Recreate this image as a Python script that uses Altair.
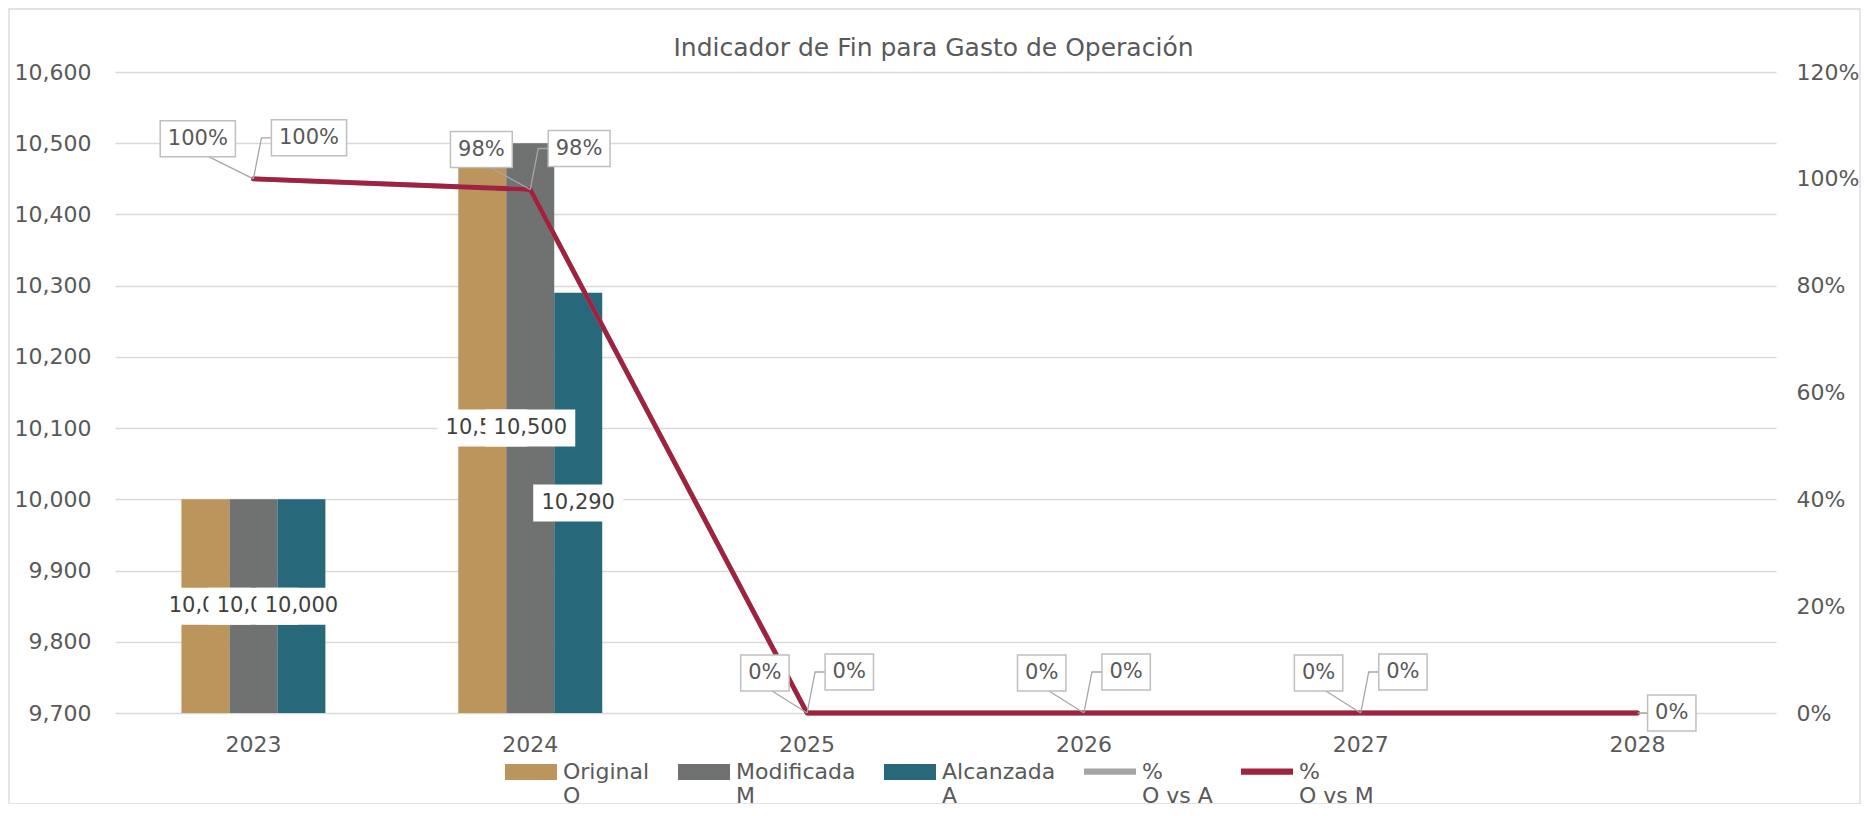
import altair as alt
import pandas as pd

FONT = "DejaVu Sans"
TXT = "#595959"

# ---------------- data ----------------
anios = ["2023", "2024", "2025", "2026", "2027", "2028"]
anios_barras = ["2023", "2024"]
series_barras = ["Original|O", "Modificada|M", "Alcanzada|A"]
original = [10000, 10500]
modificada = [10000, 10500]
alcanzada = [10000, 10290]

series_pct = ["%|O vs A", "%|O vs M"]
pct_o_vs_a = [1.00, 0.98, 0.0, 0.0, 0.0, 0.0]
pct_o_vs_m = [1.00, 0.98, 0.0, 0.0, 0.0, 0.0]

ticks_izq = [9700, 9800, 9900, 10000, 10100, 10200, 10300, 10400, 10500, 10600]
ticks_der = [0.0, 0.2, 0.4, 0.6, 0.8, 1.0, 1.2]

series_todas = series_barras + series_pct
colores = ["#BC955C", "#6F7271", "#27697A", "#A5A5A5", "#9F2241"]

titulo = "Indicador de Fin para Gasto de Operación"

# ---------------- tables ----------------
rows = []
for s, vals in zip(series_barras, [original, modificada, alcanzada]):
    for a, v in zip(anios_barras, vals):
        rows.append({"anio": a, "serie": s, "valor": v})
df_bar = pd.DataFrame(rows)

rows = []
for s, vals in zip(series_pct, [pct_o_vs_a, pct_o_vs_m]):
    for a, v in zip(anios, vals):
        rows.append({"anio": a, "serie": s, "pct": v})
df_pct = pd.DataFrame(rows)

df_ley = pd.DataFrame({"serie": series_todas})

base_min = ticks_izq[0]

# ---------------- shared encodings ----------------
x_enc = alt.X(
    "anio:N",
    scale=alt.Scale(domain=anios, paddingInner=0.48, paddingOuter=0.24),
    axis=alt.Axis(title=None, labelAngle=0, ticks=False, domain=False,
                  labelFontSize=22, labelPadding=21, labelColor=TXT, labelFont=FONT),
)
xoff_enc = alt.XOffset("serie:N", scale=alt.Scale(domain=series_barras, paddingInner=0, paddingOuter=0))
y_scale_izq = alt.Scale(domain=[ticks_izq[0], ticks_izq[-1]], zero=False, nice=False)
y_axis_izq = alt.Axis(title=None, values=ticks_izq, labelExpr="format(datum.value, ',')",
                      ticks=False, domain=False,
                      grid=True, gridColor="#D9D9D9", gridWidth=1.3,
                      labelFontSize=22, labelPadding=24, labelColor=TXT, labelFont=FONT)
y_scale_der = alt.Scale(domain=[ticks_der[0], ticks_der[-1]], nice=False)
y_axis_der = alt.Axis(title=None, orient="right", values=ticks_der,
                      labelExpr="format(datum.value, '.0%')", ticks=False,
                      domain=False, grid=False, labelFontSize=22, labelPadding=20,
                      labelColor=TXT, labelFont=FONT)

color_scale = alt.Scale(domain=series_todas, range=colores)

# legend symbol shapes (wide swatch for bars, thin stroke for lines), shifted up to sit on the first label line
forma_barra = "M-1,-0.58L1,-0.58L1,0.04L-1,0.04Z"
forma_linea = "M-1,-0.4L1,-0.4L1,-0.16L-1,-0.16Z"
legend_def = alt.Legend(
    title=None, orient="none", legendX=390, legendY=681, direction="horizontal", columns=5,
    symbolSize=2704, symbolStrokeWidth=0, columnPadding=28, padding=0, labelOffset=6,
    labelFontSize=22, labelColor=TXT, labelFont=FONT, labelBaseline="alphabetic",
    labelExpr="split(datum.label, '|')",
)
color_enc = alt.Color("serie:N", scale=color_scale, legend=legend_def)

# legend carrier (draws nothing; provides the combined colour/shape legend)
leyenda = alt.Chart(df_ley).transform_filter("false").mark_point(filled=True, opacity=1).encode(
    color=color_enc,
    shape=alt.Shape("serie:N", scale=alt.Scale(domain=series_todas,
                    range=[forma_barra] * 3 + [forma_linea] * 2), legend=legend_def),
)

# ---------------- left (bars) ----------------
borde = alt.Chart(pd.DataFrame({"k": [0]})).mark_rect(
    filled=False, stroke="#D9D9D9", strokeWidth=1.3
).encode(x=alt.value(-106), x2=alt.value(1745), y=alt.value(-63), y2=alt.value(732))

barras = alt.Chart(df_bar).mark_bar().encode(
    x=x_enc, xOffset=xoff_enc,
    y=alt.Y("valor:Q", scale=y_scale_izq, axis=y_axis_izq),
    y2=alt.Y2(datum=base_min),
    color=color_enc,
)

capas_izq = [leyenda, borde, barras]
for s in series_barras:
    b = alt.Chart(df_bar).transform_filter(alt.datum.serie == s).transform_calculate(
        mid=f"(datum.valor + {base_min}) / 2"
    )
    caja = b.mark_point(shape="M-45,-18.5L45,-18.5L45,18.5L-45,18.5Z", size=4, filled=True,
                        fill="white", opacity=1, strokeWidth=0).encode(
        x=x_enc, xOffset=xoff_enc, y=alt.Y("mid:Q", scale=y_scale_izq, axis=y_axis_izq))
    texto = b.mark_text(font=FONT, fontSize=21, color="#404040", baseline="middle").encode(
        x=x_enc, xOffset=xoff_enc, y=alt.Y("mid:Q", scale=y_scale_izq, axis=y_axis_izq),
        text=alt.Text("valor:Q", format=","))
    capas_izq += [caja, texto]

izq = alt.layer(*capas_izq)

# ---------------- right (percent lines) ----------------
y_pct = alt.Y("pct:Q", scale=y_scale_der, axis=y_axis_der)
capas_der = []
for s in series_pct:
    capas_der.append(
        alt.Chart(df_pct).transform_filter(alt.datum.serie == s)
        .mark_line(strokeWidth=4.8, strokeCap="round", strokeJoin="round")
        .encode(x=x_enc, y=y_pct, color=color_enc)
    )

ancho = "(13.4 * (length(datum.etq) - 1) + 35)"

# left labels: % O vs A (not shown for the last year)
izq_lbl = alt.Chart(df_pct).transform_filter(
    (alt.datum.serie == series_pct[0]) & (alt.datum.anio != anios[-1])
).transform_calculate(
    etq="format(datum.pct, '.0%')"
).transform_calculate(
    w=ancho
).transform_calculate(
    caja="'M' + (-18 - datum.w) + ',-58L-18,-58L-18,-22L' + (-18 - datum.w) + ',-22Z'",
    guia="'M0,0L' + (-18 - datum.w * 0.35) + ',-22'",
)
# right labels: % O vs M
der_lbl = alt.Chart(df_pct).transform_filter(
    alt.datum.serie == series_pct[1]
).transform_calculate(
    etq="format(datum.pct, '.0%')",
    ult=f"datum.anio == '{anios[-1]}'",
).transform_calculate(
    w=ancho
).transform_calculate(
    caja="datum.ult ? ('M10,-18L' + (10 + datum.w) + ',-18L' + (10 + datum.w) + ',18L10,18Z') : ('M18,-59L' + (18 + datum.w) + ',-59L' + (18 + datum.w) + ',-23L18,-23Z')",
    guia="datum.ult ? ('M0,0L' + (10 + datum.w / 2) + ',0') : ('M0,0L8,-41L' + (18 + datum.w / 2) + ',-41')",
)

for lb in [izq_lbl, der_lbl]:
    capas_der.append(lb.mark_point(size=4, filled=False, stroke="#A6A6A6", strokeWidth=1.3, opacity=1)
                     .encode(x=x_enc, y=y_pct, shape=alt.Shape("guia:N", scale=None)))
for lb in [izq_lbl, der_lbl]:
    capas_der.append(lb.mark_point(size=4, filled=True, fill="white", stroke="#BFBFBF",
                                   strokeWidth=1.5, opacity=1)
                     .encode(x=x_enc, y=y_pct, shape=alt.Shape("caja:N", scale=None)))

capas_der.append(izq_lbl.mark_text(font=FONT, fontSize=21, color=TXT, align="right",
                                   baseline="middle", dx=-25.5, dy=-40)
                 .encode(x=x_enc, y=y_pct, text="etq:N"))
capas_der.append(der_lbl.transform_filter("!datum.ult").mark_text(
    font=FONT, fontSize=21, color=TXT, align="left", baseline="middle", dx=25.5, dy=-41)
    .encode(x=x_enc, y=y_pct, text="etq:N"))
capas_der.append(der_lbl.transform_filter("datum.ult").mark_text(
    font=FONT, fontSize=21, color=TXT, align="left", baseline="middle", dx=17.5, dy=0)
    .encode(x=x_enc, y=y_pct, text="etq:N"))

der = alt.layer(*capas_der)

chart = alt.layer(izq, der).resolve_scale(y="independent").properties(
    width=1661, height=641,
    padding={"left": 107, "top": 64, "right": 90, "bottom": 91},
    autosize=alt.AutoSizeParams(type="none"),
    title=alt.TitleParams(titulo, fontSize=25, color=TXT, font=FONT, fontWeight="normal",
                          anchor="middle", dx=-12, offset=-73, baseline="alphabetic"),
).configure_view(stroke=None)

chart.save("out.html", embed_options={"renderer": "svg", "actions": False})
